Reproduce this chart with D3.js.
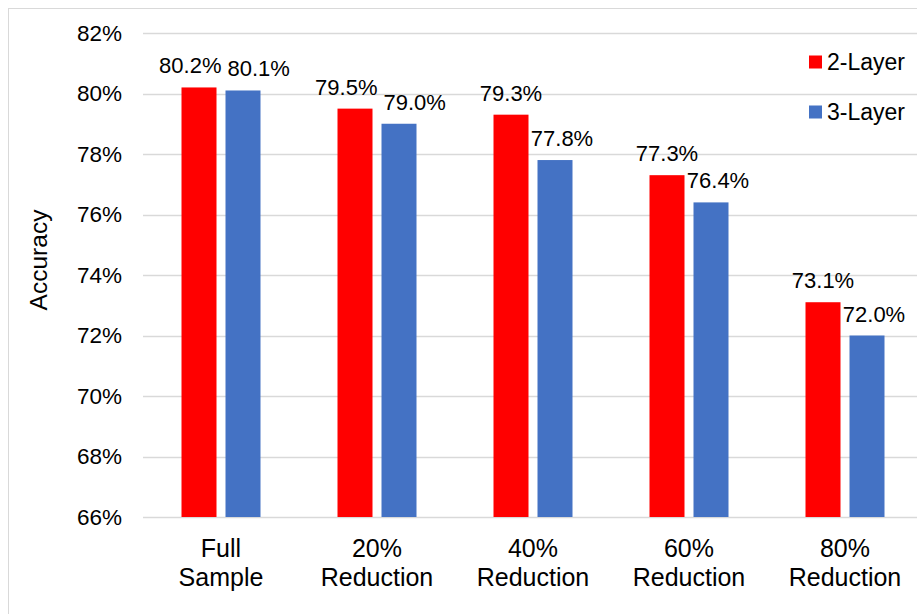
<!DOCTYPE html>
<html>
<head>
<meta charset="utf-8">
<script src="https://cdn.jsdelivr.net/npm/d3@7"></script>
<style>
  html, body { margin: 0; padding: 0; background: #fff; }
  svg { display: block; font-family: Arial, "Liberation Sans", sans-serif; }
</style>
</head>
<body>
<svg id="chart" width="917" height="614"></svg>
<script>
// Accuracy by training-set size for two network depths
const categories = [["Full", "Sample"], ["20%", "Reduction"], ["40%", "Reduction"], ["60%", "Reduction"], ["80%", "Reduction"]];
const seriesNames = ["2-Layer", "3-Layer"];
const twoLayer = [80.2, 79.5, 79.3, 77.3, 73.1];
const threeLayer = [80.1, 79.0, 77.8, 76.4, 72.0];
const yTicks = [66, 68, 70, 72, 74, 76, 78, 80, 82];
const colors = ["#ff0000", "#4472c4"];

const svg = d3.select("#chart");
const W = 917, H = 614;
const plot = { left: 143, right: 923, top: 33, bottom: 517 };

// outer chart frame
svg.append("rect")
  .attr("x", 8.5).attr("y", 8.5)
  .attr("width", W + 20).attr("height", H + 20)
  .attr("fill", "none").attr("stroke", "#d9d9d9").attr("stroke-width", 1);

const catKeys = categories.map(c => c.join(" "));
const x0 = d3.scaleBand().domain(catKeys).range([plot.left, plot.right]).paddingInner(0).paddingOuter(0);
const x1 = d3.scaleBand().domain(seriesNames).range([0, x0.bandwidth()]).paddingInner(0.2045).paddingOuter(0.875);
const y = d3.scaleLinear().domain([66, 82]).range([plot.bottom, plot.top]);

// gridlines
svg.append("g").selectAll("line").data(yTicks).join("line")
  .attr("x1", plot.left).attr("x2", plot.right)
  .attr("y1", d => Math.round(y(d)) + 0.5).attr("y2", d => Math.round(y(d)) + 0.5)
  .attr("stroke", "#d9d9d9").attr("stroke-width", 1.3);

// y axis labels
const yAxis = d3.axisLeft(y).tickValues(yTicks).tickFormat(d => d + "%").tickSize(0).tickPadding(0);
const yg = svg.append("g").attr("transform", `translate(122,0)`).call(yAxis);
yg.select(".domain").remove();
yg.selectAll("text").attr("font-size", 22.5).attr("fill", "#000")
  .attr("font-family", "Arial, 'Liberation Sans', sans-serif");

// y axis title
svg.append("text")
  .attr("transform", "translate(47,260) rotate(-90)")
  .attr("text-anchor", "middle")
  .attr("font-size", 24.5).attr("fill", "#000")
  .text("Accuracy");

// bars
const rows = catKeys.map((k, i) => ({ key: k, values: [twoLayer[i], threeLayer[i]] }));
const groups = svg.append("g").selectAll("g").data(rows).join("g")
  .attr("transform", d => `translate(${x0(d.key)},0)`);

groups.selectAll("rect").data(d => d.values.map((v, j) => ({ v, s: seriesNames[j], j }))).join("rect")
  .attr("x", d => x1(d.s))
  .attr("y", d => y(d.v))
  .attr("width", x1.bandwidth())
  .attr("height", d => y(66) - y(d.v))
  .attr("fill", d => colors[d.j]);

// data labels, nudged apart where neighbouring labels collide
const labelSize = 22;
const labelLayer = svg.append("g");
rows.forEach(row => {
  const items = row.values.map((v, j) => {
    const t = labelLayer.append("text")
      .attr("font-size", labelSize).attr("fill", "#000")
      .attr("text-anchor", "middle")
      .text(v.toFixed(1) + "%");
    const w = t.node().getComputedTextLength();
    const cx = x0(row.key) + x1(seriesNames[j]) + x1.bandwidth() / 2 + (j === 1 ? 7 : 0);
    const base = y(v) - 14;
    return { t, w, cx, base };
  });
  const [a, b] = items;
  const vOverlap = Math.abs(a.base - b.base) < labelSize * 0.78;
  const gap = 6;
  const overlap = (a.cx + a.w / 2 + gap) - (b.cx - b.w / 2);
  if (vOverlap && overlap > 0) {
    a.cx -= overlap / 2;
    b.cx += overlap / 2;
  }
  items.forEach(it => it.t.attr("x", it.cx).attr("y", it.base));
});

// category labels (two lines)
const xl = svg.append("g");
categories.forEach((c, i) => {
  const cx = x0(catKeys[i]) + x0.bandwidth() / 2;
  const t = xl.append("text")
    .attr("text-anchor", "middle")
    .attr("font-size", 25).attr("fill", "#000");
  c.forEach((line, li) => {
    t.append("tspan").attr("x", cx).attr("y", 557 + li * 28.5).text(line);
  });
});

// legend
const lg = svg.append("g");
seriesNames.forEach((name, i) => {
  const cy = 62 + i * 50;
  lg.append("rect").attr("x", 809).attr("y", cy - 6.5).attr("width", 13).attr("height", 13).attr("fill", colors[i]);
  lg.append("text").attr("x", 827).attr("y", cy).attr("dy", "0.35em")
    .attr("font-size", 23).attr("fill", "#000").text(name);
});
</script>
</body>
</html>
